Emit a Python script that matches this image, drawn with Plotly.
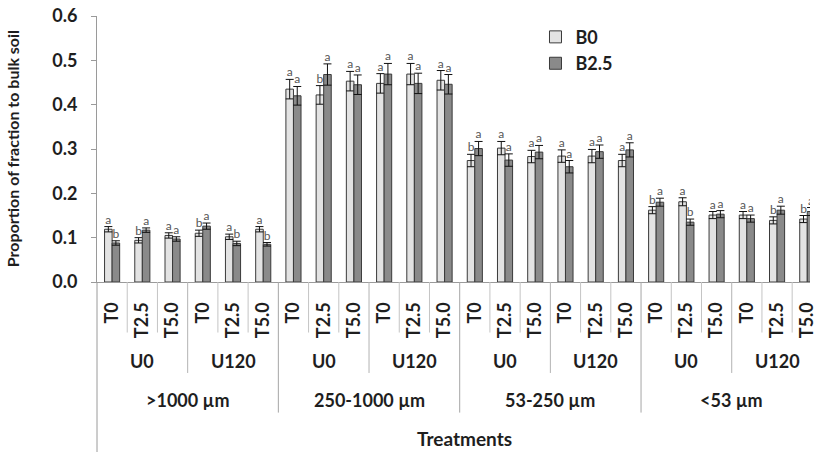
import plotly.graph_objects as go

# ---------------- data ----------------
treatments = ["T0", "T2.5", "T5.0"] * 8
urea_levels = ["U0", "U120"] * 4
fractions = [">1000 µm", "250-1000 µm", "53-250 µm", "<53 µm"]

b0 = [0.119, 0.094, 0.105, 0.110, 0.102, 0.119,
      0.435, 0.422, 0.453, 0.448, 0.469, 0.455,
      0.274, 0.302, 0.283, 0.284, 0.284, 0.274,
      0.162, 0.181, 0.151, 0.151, 0.139, 0.142]
b25 = [0.088, 0.117, 0.097, 0.126, 0.087, 0.085,
       0.420, 0.468, 0.445, 0.469, 0.448, 0.446,
       0.301, 0.275, 0.293, 0.260, 0.294, 0.298,
       0.180, 0.135, 0.153, 0.143, 0.162, 0.159]
b0_err = [0.006, 0.006, 0.006, 0.007, 0.006, 0.006,
          0.022, 0.021, 0.022, 0.022, 0.024, 0.022,
          0.014, 0.015, 0.014, 0.014, 0.015, 0.014,
          0.008, 0.009, 0.008, 0.008, 0.008, 0.008]
b25_err = [0.005, 0.005, 0.005, 0.007, 0.005, 0.004,
           0.021, 0.024, 0.022, 0.024, 0.023, 0.022,
           0.016, 0.014, 0.015, 0.014, 0.015, 0.016,
           0.009, 0.007, 0.008, 0.008, 0.009, 0.009]
b0_letters = ["a", "b", "a", "b", "a", "a",
              "a", "b", "a", "a", "a", "a",
              "b", "a", "a", "a", "a", "a",
              "b", "a", "a", "a", "b", "b"]
b25_letters = ["b", "a", "a", "a", "b", "b",
               "a", "a", "a", "a", "a", "a",
               "a", "a", "a", "a", "a", "a",
               "a", "b", "a", "a", "a", "a"]
y_ticks = [0.0, 0.1, 0.2, 0.3, 0.4, 0.5, 0.6]

# ---------------- styles ----------------
FONT = "Lato"
TXT = "#1e1e1e"
LIGHT = "#e3e3e3"
DARK = "#8a8a8a"
EDGE = "#3a3a3a"

n = len(treatments)
xs = list(range(n))
half = 0.125  # half of bar slot width (bargap 0.5, 2 bars)

fig = go.Figure()
fig.add_trace(go.Bar(
    x=xs, y=b0, name="B0",
    marker=dict(color=LIGHT, line=dict(color=EDGE, width=1)),
    error_y=dict(type="data", array=b0_err, color="#111", thickness=1, width=4),
))
fig.add_trace(go.Bar(
    x=xs, y=b25, name="B2.5",
    marker=dict(color=DARK, line=dict(color=EDGE, width=1)),
    error_y=dict(type="data", array=b25_err, color="#111", thickness=1, width=4),
))
fig.add_trace(go.Scatter(
    x=[x - half for x in xs], y=[v + e for v, e in zip(b0, b0_err)],
    mode="text", text=b0_letters, textposition="top center",
    textfont=dict(family=FONT, size=12, color="#555"), showlegend=False,
    hoverinfo="skip",
))
fig.add_trace(go.Scatter(
    x=[x + half for x in xs], y=[v + e for v, e in zip(b25, b25_err)],
    mode="text", text=b25_letters, textposition="top center",
    textfont=dict(family=FONT, size=12, color="#555"), showlegend=False,
    hoverinfo="skip",
))

shapes = []
# category separators below the axis
for b in range(n - 1):
    pos = b + 0.5
    if (b + 1) % 6 == 0:
        y1, col = -0.491, "#a6a6a6"
    elif (b + 1) % 3 == 0:
        y1, col = -0.342, "#b3b3b3"
    else:
        y1, col = -0.19, "#c4c4c4"
    shapes.append(dict(type="line", xref="x", yref="paper", x0=pos, x1=pos,
                       y0=0, y1=y1, line=dict(color=col, width=1)))
# left axis line continued to the bottom
shapes.append(dict(type="line", xref="paper", yref="paper", x0=0, x1=0,
                   y0=0, y1=-0.64, line=dict(color="#9a9a9a", width=1)))

annotations = []
lab_font = dict(family=FONT, size=18, color=TXT, weight=700)
for k, u in enumerate(urea_levels):
    annotations.append(dict(x=k * 3 + 1, y=-0.296, xref="x", yref="paper",
                            text=u, showarrow=False, font=lab_font,
                            xanchor="center", yanchor="middle"))
for k, f in enumerate(fractions):
    annotations.append(dict(x=k * 6 + 2.5, y=-0.444, xref="x", yref="paper",
                            text=f, showarrow=False, font=lab_font,
                            xanchor="center", yanchor="middle"))
annotations.append(dict(x=(n - 1) / 2 + 0.15, y=-0.59, xref="x", yref="paper",
                        text="Treatments", showarrow=False,
                        font=dict(family=FONT, size=19, color=TXT, weight=700),
                        xanchor="center", yanchor="middle"))
annotations.append(dict(x=-0.119, y=0.5, xref="paper", yref="paper",
                        text="Proportion of fraction to bulk soil", textangle=-90,
                        showarrow=False,
                        font=dict(family=FONT, size=16, color=TXT, weight=700),
                        xanchor="center", yanchor="middle"))

fig.update_layout(
    width=817, height=452,
    margin=dict(l=97, r=0, t=16, b=170),
    paper_bgcolor="white", plot_bgcolor="white",
    barmode="group", bargap=0.5, bargroupgap=0,
    showlegend=True,
    legend=dict(x=0.615, y=0.99, xanchor="left", yanchor="top",
                font=dict(family=FONT, size=18, color=TXT, weight=700),
                bgcolor="rgba(0,0,0,0)", tracegroupgap=0),
    xaxis=dict(range=[-0.5, 23.09], tickmode="array", tickvals=xs,
               ticktext=treatments, tickangle=-90, showline=True,
               linecolor="#9a9a9a", linewidth=1, ticks="", showgrid=False,
               zeroline=False, ticklabelstandoff=12, ticklabeloverflow="allow",
               tickfont=dict(family=FONT, size=18, color=TXT, weight=700)),
    yaxis=dict(range=[0, 0.6], tickmode="array", tickvals=y_ticks,
               ticktext=[f"{v:.1f}" for v in y_ticks], showline=True,
               linecolor="#9a9a9a", linewidth=1, ticks="outside", ticklen=5,
               tickcolor="#9a9a9a", showgrid=False, zeroline=False,
               ticklabelstandoff=10,
               tickfont=dict(family=FONT, size=18, color=TXT, weight=700)),
    shapes=shapes, annotations=annotations,
)

fig.write_html("out.html",
               config={"displayModeBar": False},
               post_script="document.body.style.margin='0';"
                           "document.body.style.overflow='hidden';")
